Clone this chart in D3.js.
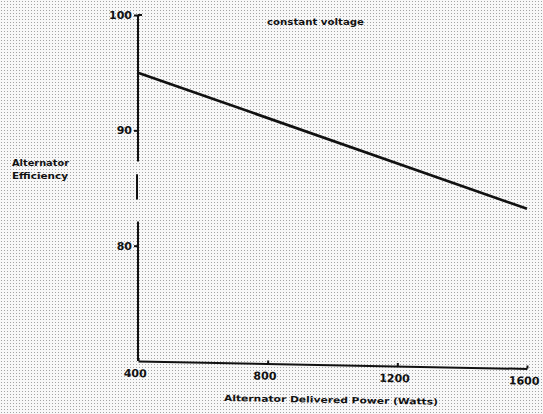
<!DOCTYPE html>
<html lang="en">
<head>
  <meta charset="UTF-8">
  <title>Alternator efficiency</title>
  <style>
    body { margin: 0; background: #fff; }
    #grafico { display: block; }
    .eixo path, .eixo line { stroke: #111; stroke-width: 2; }
    .eixo text { font-family: "DejaVu Sans", sans-serif; font-weight: bold; font-size: 11px; fill: #111; }
    .rotulo { font-family: "DejaVu Sans", sans-serif; font-weight: bold; font-size: 8.5px; fill: #111; }
    .curva { fill: none; stroke: #111; stroke-width: 2.6; }
  </style>
</head>
<body>
  <svg id="grafico"></svg>

  <script src="https://d3js.org/d3.v7.min.js"></script>
  <script>
    // values
    const potencia = [400, 1600];
    const eficiencia = [95.0, 83.2];
    const ticksX = [400, 800, 1200, 1600];
    const ticksY = [80, 90, 100];

    function executa() {
      const largura = 543;
      const altura = 414;
      const svg = d3.select('#grafico').attr('width', largura).attr('height', altura);

      // halftone-like background of the scan
      const padrao = svg.append('defs').append('pattern')
        .attr('id', 'pontos').attr('width', 3).attr('height', 3)
        .attr('patternUnits', 'userSpaceOnUse');
      padrao.append('rect').attr('width', 3).attr('height', 3).attr('fill', '#f8f8f8');
      padrao.append('rect').attr('x', 1).attr('y', 1).attr('width', 1).attr('height', 1).attr('fill', '#a4a4a4');
      svg.append('rect').attr('width', largura).attr('height', altura).attr('fill', 'url(#pontos)');

      const x = d3.scaleLinear().domain([400, 1600]).range([138, 527]);
      const y = d3.scaleLinear().domain([70, 100]).range([361, 15]);

      // y axis, broken in the scan between 90 and 80
      svg.append('g')
        .classed('eixo', true)
        .attr('transform', `translate(${x(400)},0)`)
        .call(d3.axisLeft(y).tickValues(ticksY).tickSize(4).tickSizeOuter(0).tickFormat(d3.format('d')))
        .call(g => g.select('.domain').attr('d',
          `M0,${y(100)}H4M0,${y(100)}V${y(87.3)}M-1,${y(86.2)}V${y(84)}M0,${y(82.1)}V${y(70)}`))
        .call(g => g.selectAll('text').attr('dx', 1));

      // x axis (scan is slightly tilted)
      svg.append('g')
        .classed('eixo', true)
        .attr('transform', `translate(0,${y(70)}) rotate(1.1,${x(400)},0)`)
        .call(d3.axisBottom(x).tickValues(ticksX).tickSize(-3).tickSizeOuter(0).tickFormat(d3.format('d')))
        .call(g => g.selectAll('text').attr('dy', '1.2em').attr('dx', -3));

      // the curve
      const linha = d3.line().x((d, i) => x(d)).y((d, i) => y(eficiencia[i]));
      svg.append('path').classed('curva', true).attr('d', linha(potencia));

      const rotulos = [
        { t: 'constant voltage', x: 267, y: 25, w: 97, r: 0 },
        { t: 'Alternator', x: 12, y: 166, w: 57, r: 0 },
        { t: 'Efficiency', x: 12, y: 179, w: 56, r: 0 },
        { t: 'Alternator Delivered Power (Watts)', x: 224, y: 401, w: 214, r: 1 }
      ];
      svg.selectAll('.rotulo')
        .data(rotulos)
        .enter()
        .append('text')
        .classed('rotulo', true)
        .attr('x', d => d.x)
        .attr('y', d => d.y)
        .attr('textLength', d => d.w)
        .attr('lengthAdjust', 'spacingAndGlyphs')
        .attr('transform', d => `rotate(${d.r},${d.x},${d.y})`)
        .text(d => d.t);
    }

    executa();
  </script>
</body>
</html>
